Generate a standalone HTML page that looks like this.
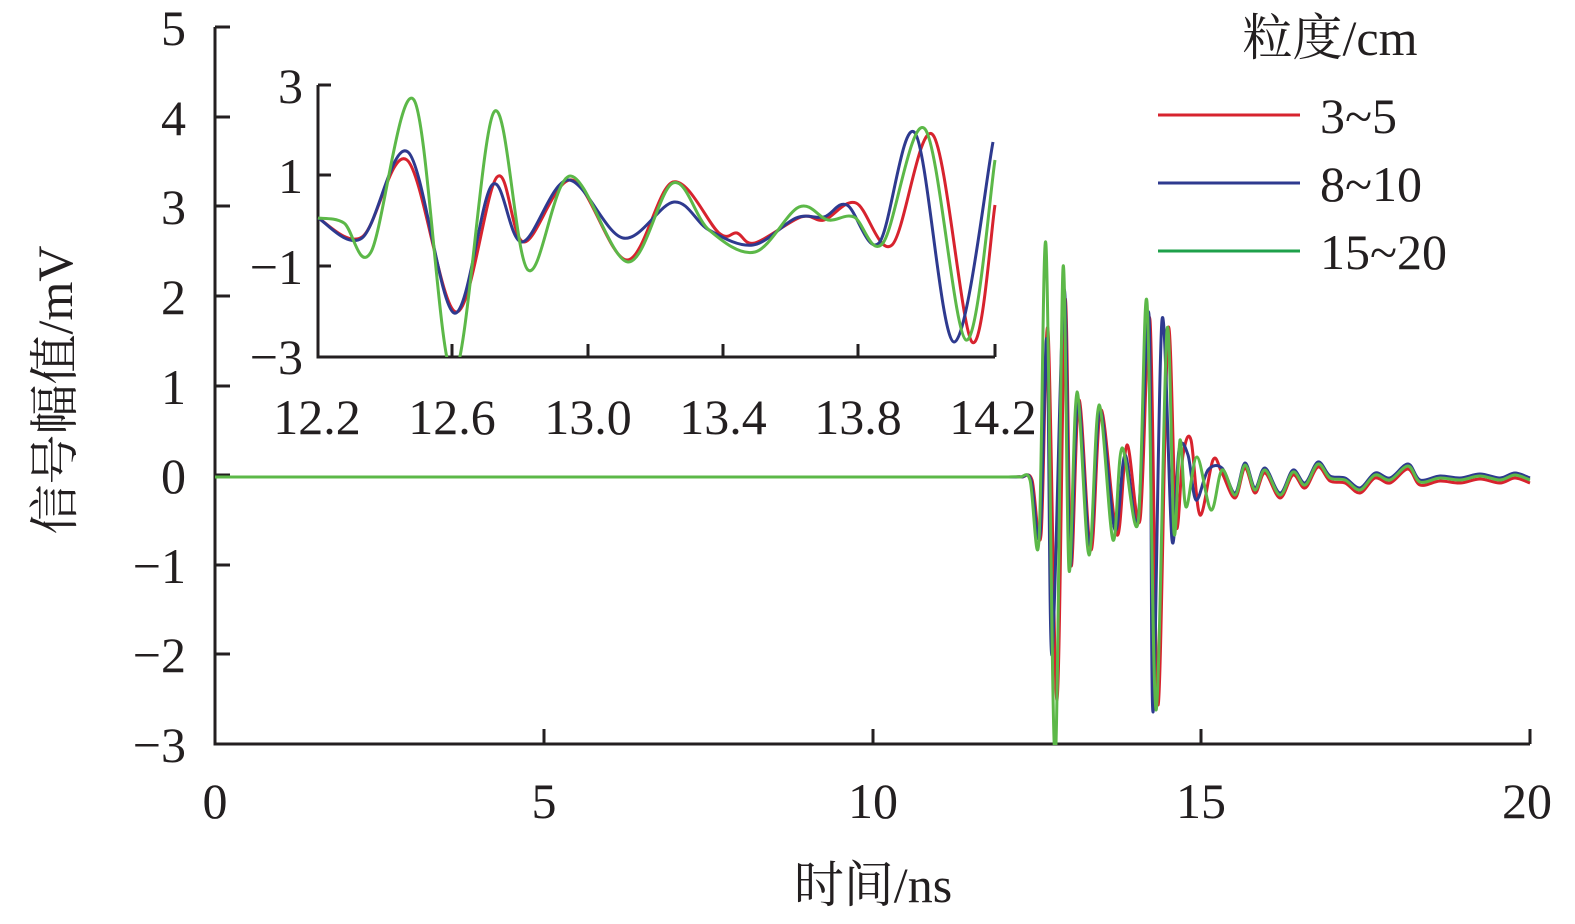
<!DOCTYPE html>
<html><head><meta charset="utf-8"><style>
html,body{margin:0;padding:0;background:#fff;}
svg{display:block;}
text{font-family:"Liberation Serif","Noto Serif CJK SC",serif;fill:#231f20;}
</style></head><body>
<svg id="s" width="1575" height="924" viewBox="0 0 1575 924" xmlns="http://www.w3.org/2000/svg">
<defs><clipPath id="ic"><rect x="316" y="60" width="682" height="297"/></clipPath>
<clipPath id="mc"><rect x="215" y="0" width="1330" height="745"/></clipPath></defs>
<g stroke="#231f20" stroke-width="3" fill="none">
<path d="M215,27 V744 H1530"/>
<path d="M215,27h15M215,117h15M215,206h15M215,296h15M215,386h15M215,475h15M215,565h15M215,654h15"/>
<path d="M544,744v-15M873,744v-15M1201,744v-15M1530,744v-15"/>
<path d="M318,85 V357 H995"/>
<path d="M318,85h13M318,175h13M318,266h13"/>
<path d="M452,357v-13M588,357v-13M723,357v-13M858,357v-13M995,357v-13"/>
</g>
<g font-size="50" text-anchor="end">
<text x="186" y="45">5</text><text x="186" y="135">4</text><text x="186" y="224">3</text>
<text x="186" y="314">2</text><text x="186" y="404">1</text><text x="186" y="493">0</text>
<text x="186" y="583">−1</text><text x="186" y="672">−2</text><text x="186" y="762">−3</text>
<text x="303" y="103">3</text><text x="303" y="193">1</text><text x="303" y="284">−1</text><text x="303" y="374">−3</text>
</g>
<g font-size="50" text-anchor="middle">
<text x="215" y="818">0</text><text x="544" y="818">5</text><text x="873" y="818">10</text>
<text x="1201" y="818">15</text><text x="1527" y="818">20</text>
<text x="317" y="434">12.2</text><text x="452" y="434">12.6</text><text x="588" y="434">13.0</text>
<text x="723" y="434">13.4</text><text x="858" y="434">13.8</text><text x="993" y="434">14.2</text>
<text x="873" y="902">时间/ns</text>
<text transform="translate(72,390) rotate(-90)">信号幅值/mV</text>
<text x="1330" y="55">粒度/cm</text>
</g>
<g font-size="50">
<text x="1320" y="133">3~5</text><text x="1320" y="201">8~10</text><text x="1320" y="269">15~20</text>
</g>
<g stroke-width="3">
<path d="M1158,115H1300" stroke="#d7232e"/><path d="M1158,183H1300" stroke="#2e3a8f"/><path d="M1158,251H1300" stroke="#1ea04a"/>
</g>
<g id="plots" fill="none" stroke-width="3" stroke-linejoin="round"></g>
</svg>
<script>
function cr(p){let d="M"+p[0][0]+","+p[0][1];for(let i=0;i<p.length-1;i++){const a=p[Math.max(i-1,0)],b=p[i],c=p[i+1],e=p[Math.min(i+2,p.length-1)];
const c1=[b[0]+(c[0]-a[0])/6,b[1]+(c[1]-a[1])/6],c2=[c[0]-(e[0]-b[0])/6,c[1]-(e[1]-b[1])/6];
d+=" C"+c1[0].toFixed(1)+","+c1[1].toFixed(1)+" "+c2[0].toFixed(1)+","+c2[1].toFixed(1)+" "+c[0]+","+c[1];}return d;}
const R="#d7232e",B="#2e3a8f",G="#5cb848";
const ins={
R:[[318,218],[362,237],[407,160],[456,312],[497,177],[524,242],[572,180],[627,260],[673,182],[719,233],[737,233],[755,243],[801,217],[824,220],[856,203],[892,245],[933,135],[972,342],[995,205]],
B:[[318,218],[362,238],[408,152],[454,313],[492,185],[522,242],[568,180],[623,238],[674,202],[709,230],[753,245],[796,218],[824,217],[847,205],[879,243],[915,133],[954,342],[993,142]],
G:[[318,218],[344,223],[371,252],[414,100],[453,375],[494,112],[528,270],[570,176],[628,262],[673,183],[709,230],[755,252],[799,207],[828,220],[854,217],[883,243],[925,129],[966,340],[995,160]]};
const tail=[[1222,470],[1235,495],[1245,465],[1255,490],[1265,470],[1280,495],[1293,472],[1305,485],[1318,464],[1330,478],[1345,480],[1360,490],[1375,475],[1390,480],[1408,466],[1420,482],[1440,478],[1460,480],[1480,476],[1500,480],[1515,475],[1530,480]];
const mn={
R:[[1022,477],[1032,480],[1041,535],[1048,330],[1057,700],[1065,300],[1071,565],[1079,400],[1091,550],[1101,410],[1117,535],[1127,445],[1140,520],[1150,320],[1158,705],[1168,330],[1176,525],[1183,455],[1191,440],[1200,515],[1213,460]],
B:[[1022,477],[1031,480],[1040,535],[1047,340],[1052,655],[1064,290],[1070,565],[1078,400],[1090,545],[1100,410],[1115,530],[1125,455],[1138,520],[1149,315],[1153,712],[1162,320],[1172,540],[1179,450],[1188,455],[1196,500],[1208,470]],
G:[[1020,477],[1030,480],[1039,540],[1046,245],[1055,760],[1063,268],[1069,570],[1077,392],[1089,555],[1099,405],[1113,540],[1122,448],[1138,523],[1147,302],[1156,710],[1167,330],[1174,533],[1180,440],[1186,507],[1197,457],[1211,510]]};
const g=document.getElementById("plots");let h="";
[["R",R],["B",B],["G",G]].forEach(([k,c])=>{
 h+='<path clip-path="url(#ic)" stroke="'+c+'" d="'+cr(ins[k])+'"/>';
 let pre=[];for(let x=215;x<mn[k][0][0]-5;x+=8)pre.push([x,477]);
 const lx=mn[k][mn[k].length-1][0];
 let pts=pre.concat(mn[k]).concat(tail.filter(p=>p[0]>lx+6).map(p=>[p[0],p[1]+(k=="R"?3:k=="B"?-2:0)]));
 h+='<path clip-path="url(#mc)" stroke="'+c+'" d="'+cr(pts)+'"/>';});
g.innerHTML=h;
</script>
</body></html>
